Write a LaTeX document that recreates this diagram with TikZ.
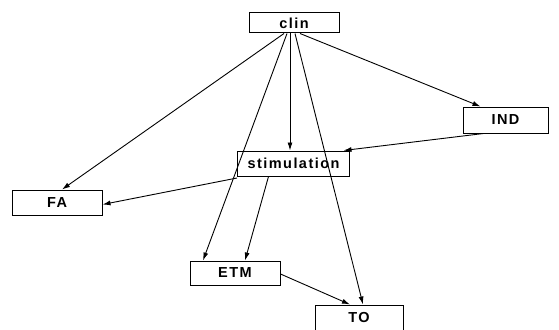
\documentclass[tikz,border=0pt]{standalone}
\usepackage{fontspec}
\setmainfont{Liberation Sans}[LetterSpace=10]
\usetikzlibrary{arrows.meta}
\begin{document}
\begin{tikzpicture}[x=1pt,y=-1pt,
  box/.style={draw,line width=1pt,inner sep=0pt,font=\fontsize{14.5}{16}\selectfont\bfseries},
  conn/.style={line width=0.9pt,-{Latex[length=8pt,width=5pt]}}]
\useasboundingbox (0,0) rectangle (559,329);
\node[box,minimum width=90pt,minimum height=20pt] (clin) at (294,23) {clin};
\node[box,minimum width=112pt,minimum height=25pt] (stim) at (293.5,163.5) {stimulation};
\node[box,minimum width=90pt,minimum height=25pt] (FA) at (57,202.5) {FA};
\node[box,minimum width=85pt,minimum height=26pt] (IND) at (505.5,120) {IND};
\node[box,minimum width=90pt,minimum height=24pt] (ETM) at (235,273) {ETM};
\node[box,minimum width=88pt,minimum height=25pt] (TO) at (359,317.5) {TO};
\draw[conn] ([xshift=-10pt]clin.south) -- ([xshift=5pt]FA.north);
\draw[conn] ([xshift=-4pt]clin.south) -- ([xshift=-3.5pt]stim.north);
\draw[conn] ([xshift=6pt]clin.south) -- ([xshift=-25pt]IND.north);
\draw[conn] ([xshift=-7pt]clin.south) -- ([xshift=-32pt]ETM.north);
\draw[conn] ([xshift=1pt]clin.south) -- ([xshift=4pt]TO.north);
\draw[conn] ([xshift=-22pt]IND.south) -- ([xshift=50pt]stim.north);
\draw[conn] ([yshift=-1.5pt]stim.south west) -- ([yshift=-2pt]FA.east);
\draw[conn] ([xshift=-25pt]stim.south) -- ([xshift=10pt]ETM.north);
\draw[conn] ([yshift=-1pt]ETM.east) -- ([xshift=-9pt]TO.north);
\end{tikzpicture}
\end{document}
